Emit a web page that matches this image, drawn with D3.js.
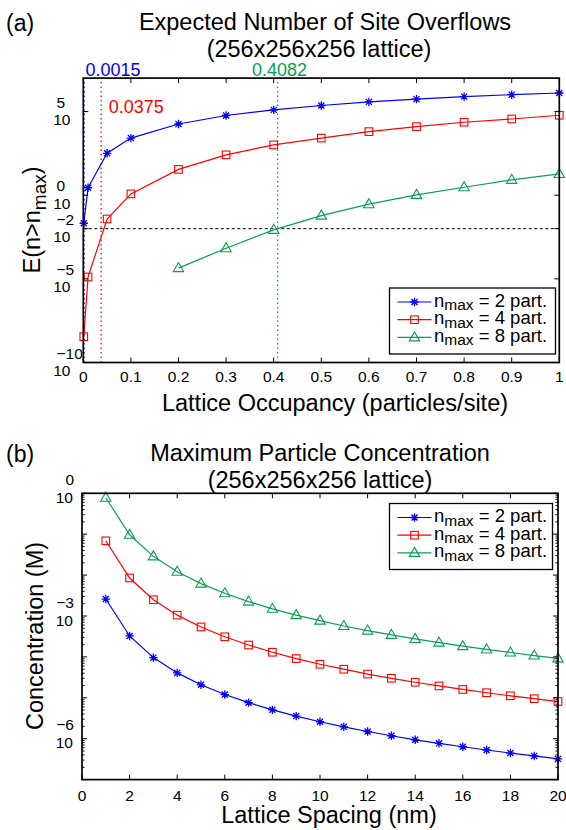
<!DOCTYPE html>
<html>

<head>
<title>Site Overflows</title>
<meta charset="utf-8">
<style>

body {
  margin: 0;
  background: #fff;
}

svg text {
  font-family: "Liberation Sans", Arial, Helvetica, sans-serif;
  fill: #000;
}

.frame {
  fill: none;
  stroke: #000;
  stroke-width: 1.7px;
}

.tick {
  stroke: #000;
  stroke-width: 1px;
}

.series {
  fill: none;
  stroke-width: 1.2px;
}

</style>
</head>

<body>
<svg width="566" height="830"></svg>

<script src="https://cdn.jsdelivr.net/npm/d3@7"></script>
<script>

// panel (a): expected number of site overflows vs lattice occupancy
var occupancy = [0.001, 0.01, 0.05, 0.1, 0.2, 0.3, 0.4, 0.5, 0.6, 0.7, 0.8, 0.9, 1.0];
var overflow2 = [2.1e-2, 2.8, 3.2e2, 2.6e3, 1.8e4, 5.8e4, 1.26e5, 2.3e5, 3.8e5, 5.5e5, 7.8e5, 1.02e6, 1.29e6];
var overflow4 = [3.5e-9, 1.3e-5, 3.8e-2, 1.2, 35, 2.6e2, 1.02e3, 2.6e3, 6.3e3, 1.26e4, 2.3e4, 3.6e4, 6.0e4];
var occupancy8 = [0.2, 0.3, 0.4, 0.5, 0.6, 0.7, 0.8, 0.9, 1.0];
var overflow8 = [4.4e-5, 6.8e-4, 8.5e-3, 6.0e-2, 0.29, 1.05, 3.0, 8.3, 18.6];
var thresholds = [0.0015, 0.0375, 0.4082];
var thresholdLevel = 1e-2;
var occupancyTicks = [0, 0.1, 0.2, 0.3, 0.4, 0.5, 0.6, 0.7, 0.8, 0.9, 1];
var overflowTicks = [1e-10, 1e-5, 1e-2, 1e0, 1e5];

// panel (b): maximum particle concentration vs lattice spacing
var spacing = [1, 2, 3, 4, 5, 6, 7, 8, 9, 10, 11, 12, 13, 14, 15, 16, 17, 18, 19, 20];
var conc2 = [2.6e-3, 3.25e-4, 9.6e-5, 4.06e-5, 2.08e-5, 1.2e-5, 7.6e-6, 5.08e-6, 3.57e-6, 2.6e-6,
             1.95e-6, 1.5e-6, 1.18e-6, 9.4e-7, 7.7e-7, 6.35e-7, 5.3e-7, 4.46e-7, 3.79e-7, 3.2e-7];
var conc4 = [6.9e-2, 8.5e-3, 2.5e-3, 1.05e-3, 5.4e-4, 3.1e-4, 1.95e-4, 1.3e-4, 9.1e-5, 6.6e-5,
             5.0e-5, 3.8e-5, 3.0e-5, 2.4e-5, 1.95e-5, 1.6e-5, 1.33e-5, 1.12e-5, 9.5e-6, 8.1e-6];
var conc8 = [0.78, 9.7e-2, 2.87e-2, 1.21e-2, 6.2e-3, 3.6e-3, 2.25e-3, 1.5e-3, 1.05e-3, 7.7e-4,
             5.7e-4, 4.4e-4, 3.45e-4, 2.75e-4, 2.23e-4, 1.83e-4, 1.52e-4, 1.28e-4, 1.08e-4, 9.2e-5];
var spacingTicks = [0, 2, 4, 6, 8, 10, 12, 14, 16, 18, 20];
var concLabelTicks = [1e0, 1e-3, 1e-6];

var seriesNames = ["2", "4", "8"];
var colors = ["#0000ff", "#ff0000", "#0a9f50"];
var markers = ["star", "square", "triangle"];

var svg = d3.select("svg");

function marker(g, kind, x, y, color) {
  if (kind == "star") {
    var r = 4.2, d = r * 0.72;
    g.append("path")
        .attr("d", "M" + (x - r) + "," + y + "H" + (x + r) + "M" + x + "," + (y - r) + "V" + (y + r) +
          "M" + (x - d) + "," + (y - d) + "L" + (x + d) + "," + (y + d) +
          "M" + (x - d) + "," + (y + d) + "L" + (x + d) + "," + (y - d))
        .attr("stroke", color).attr("stroke-width", 1.3).attr("fill", "none");
  } else if (kind == "square") {
    g.append("rect")
        .attr("x", x - 3.8).attr("y", y - 3.8).attr("width", 7.6).attr("height", 7.6)
        .attr("stroke", color).attr("stroke-width", 1.1).attr("fill", "none");
  } else {
    g.append("path")
        .attr("d", "M" + x + "," + (y - 5.5) + "L" + (x + 5.2) + "," + (y + 3.5) + "L" + (x - 5.2) + "," + (y + 3.5) + "Z")
        .attr("stroke", color).attr("stroke-width", 1.1).attr("fill", "none");
  }
}

function drawSeries(g, x, y, xs, ys, color, kind) {
  var pts = xs.map(function(d, i) { return [x(d), y(ys[i])]; });
  g.append("path")
      .attr("class", "series")
      .attr("stroke", color)
      .attr("d", d3.line()(pts));
  pts.forEach(function(p) { marker(g, kind, p[0], p[1], color); });
}

// box, inward ticks on all four sides
function frame(g, x, y, xticks, yticks, minor) {
  var x0 = x.range()[0], x1 = x.range()[1], y0 = y.range()[0], y1 = y.range()[1];
  xticks.forEach(function(t) {
    g.append("line").attr("class", "tick").attr("x1", x(t)).attr("x2", x(t)).attr("y1", y0).attr("y2", y0 - 5);
    g.append("line").attr("class", "tick").attr("x1", x(t)).attr("x2", x(t)).attr("y1", y1).attr("y2", y1 + 5);
  });
  yticks.forEach(function(t) {
    g.append("line").attr("class", "tick").attr("x1", x0).attr("x2", x0 + 5).attr("y1", y(t)).attr("y2", y(t));
    g.append("line").attr("class", "tick").attr("x1", x1).attr("x2", x1 - 5).attr("y1", y(t)).attr("y2", y(t));
  });
  (minor || []).forEach(function(t) {
    g.append("line").attr("class", "tick").attr("x1", x0).attr("x2", x0 + 2.5).attr("y1", y(t)).attr("y2", y(t));
    g.append("line").attr("class", "tick").attr("x1", x1).attr("x2", x1 - 2.5).attr("y1", y(t)).attr("y2", y(t));
  });
  g.append("rect").attr("class", "frame")
      .attr("x", x0).attr("y", y1).attr("width", x1 - x0).attr("height", y0 - y1);
}

function xLabels(g, x, ticks, ybase) {
  g.selectAll(null).data(ticks).enter().append("text")
      .attr("x", function(d) { return x(d); })
      .attr("y", ybase)
      .attr("text-anchor", "middle")
      .style("font-size", "15.5px")
      .text(function(d) { return d; });
}

// MATLAB style 10 with exponent on the line above
function powLabels(g, y, ticks, baseX, expX, expAnchor, dyExp, dyBase) {
  ticks.forEach(function(t) {
    var e = Math.round(Math.log10(t));
    g.append("text").attr("x", expX).attr("y", y(t) + dyExp)
        .attr("text-anchor", expAnchor).style("font-size", "15.5px")
        .text(e < 0 ? "\u2212" + (-e) : e);
    g.append("text").attr("x", baseX).attr("y", y(t) + dyBase)
        .attr("text-anchor", "end").style("font-size", "15.5px")
        .text("10");
  });
}

function legend(g, x0, y0, w, h) {
  g.append("rect").attr("x", x0).attr("y", y0).attr("width", w).attr("height", h)
      .attr("fill", "#fff").attr("stroke", "#000").attr("stroke-width", 1.3);
  seriesNames.forEach(function(n, i) {
    var yy = y0 + 14 + i * 17.7;
    g.append("line").attr("x1", x0 + 8).attr("x2", x0 + 42).attr("y1", yy).attr("y2", yy)
        .attr("stroke", colors[i]).attr("stroke-width", 1.2);
    marker(g, markers[i], x0 + 25, yy, colors[i]);
    var t = g.append("text").attr("x", x0 + 44.5).attr("y", yy + 4.5).style("font-size", "18.5px");
    t.append("tspan").text("n");
    t.append("tspan").attr("dy", 3.5).style("font-size", "15.5px").text("max");
    t.append("tspan").attr("dy", -3.5).text(" = " + n + " part.");
  });
}

// ---------- panel (a) ----------
var xa = d3.scaleLinear().domain([0, 1]).range([83.3, 559.3]);
var ya = d3.scaleLog().domain([1e-10, 1e7]).range([362.5, 78.1]);
var ga = svg.append("g");

// threshold guides
ga.append("line")
    .attr("x1", xa(0)).attr("x2", xa(1)).attr("y1", ya(thresholdLevel)).attr("y2", ya(thresholdLevel))
    .attr("stroke", "#000").attr("stroke-width", 1).attr("stroke-dasharray", "3,2.5");
thresholds.forEach(function(t, i) {
  ga.append("line")
      .attr("x1", xa(t)).attr("x2", xa(t)).attr("y1", ya.range()[0]).attr("y2", ya.range()[1])
      .attr("stroke", colors[i]).attr("stroke-width", 1.3).attr("stroke-dasharray", "1.5,3");
});

drawSeries(ga, xa, ya, occupancy, overflow2, colors[0], markers[0]);
drawSeries(ga, xa, ya, occupancy, overflow4, colors[1], markers[1]);
drawSeries(ga, xa, ya, occupancy8, overflow8, colors[2], markers[2]);

frame(ga, xa, ya, occupancyTicks, overflowTicks);
xLabels(ga, xa, occupancyTicks, 381.5);
powLabels(ga, ya, overflowTicks, 70.5, 56.5, "start", -4, 13.5);

// threshold values
ga.append("text").attr("x", xa(thresholds[0]) + 1.5).attr("y", 76).attr("fill", colors[0])
    .style("fill", colors[0]).style("font-size", "18px").text(thresholds[0].toFixed(4));
ga.append("text").attr("x", xa(thresholds[1]) + 7.5).attr("y", 113).attr("fill", colors[1])
    .style("fill", colors[1]).style("font-size", "18px").text(thresholds[1].toFixed(4));
ga.append("text").attr("x", xa(thresholds[2]) + 2).attr("y", 76).attr("text-anchor", "middle")
    .style("fill", colors[2]).style("font-size", "18px").text(thresholds[2].toFixed(4));

legend(ga, 389.5, 288, 166, 66);

ga.append("text").attr("x", 6).attr("y", 31).style("font-size", "23px").text("(a)");
ga.append("text").attr("x", 325).attr("y", 30).attr("text-anchor", "middle").style("font-size", "23.5px")
    .text("Expected Number of Site Overflows");
ga.append("text").attr("x", 319).attr("y", 56.5).attr("text-anchor", "middle").style("font-size", "23.5px")
    .text("(256x256x256 lattice)");
ga.append("text").attr("x", 335).attr("y", 411).attr("text-anchor", "middle").style("font-size", "23.5px")
    .text("Lattice Occupancy (particles/site)");

var yla = ga.append("text").attr("transform", "translate(40,220) rotate(-90)")
    .attr("text-anchor", "middle").style("font-size", "23.5px");
yla.append("tspan").text("E(n>n");
yla.append("tspan").attr("dy", 6).style("font-size", "19px").text("max");
yla.append("tspan").attr("dy", -6).text(")");

// ---------- panel (b) ----------
var xb = d3.scaleLinear().domain([0, 20]).range([82, 558]);
var yb = d3.scaleLog().domain([1e-7, 1]).range([779.6, 493.3]);
var gb = svg.append("g");

drawSeries(gb, xb, yb, spacing, conc2, colors[0], markers[0]);
drawSeries(gb, xb, yb, spacing, conc4, colors[1], markers[1]);
drawSeries(gb, xb, yb, spacing, conc8, colors[2], markers[2]);

var majors = yb.ticks().filter(function(t) { return Math.abs(Math.log10(t) - Math.round(Math.log10(t))) < 1e-9; });
var minors = yb.ticks().filter(function(t) { return majors.indexOf(t) < 0; });
frame(gb, xb, yb, spacingTicks, majors, minors);
xLabels(gb, xb, spacingTicks, 800.5);
powLabels(gb, yb, concLabelTicks, 73, 74, "end", -8.5, 9.5);

legend(gb, 389.5, 503.5, 163, 66);

gb.append("text").attr("x", 6).attr("y", 462).style("font-size", "23px").text("(b)");
gb.append("text").attr("x", 320).attr("y", 461).attr("text-anchor", "middle").style("font-size", "23.5px")
    .text("Maximum Particle Concentration");
gb.append("text").attr("x", 320).attr("y", 488).attr("text-anchor", "middle").style("font-size", "23.5px")
    .text("(256x256x256 lattice)");
gb.append("text").attr("x", 329).attr("y", 823).attr("text-anchor", "middle").style("font-size", "23.5px")
    .text("Lattice Spacing (nm)");
gb.append("text").attr("transform", "translate(43,636) rotate(-90)")
    .attr("text-anchor", "middle").style("font-size", "23.5px")
    .text("Concentration (M)");

</script>
</body>
</html>
